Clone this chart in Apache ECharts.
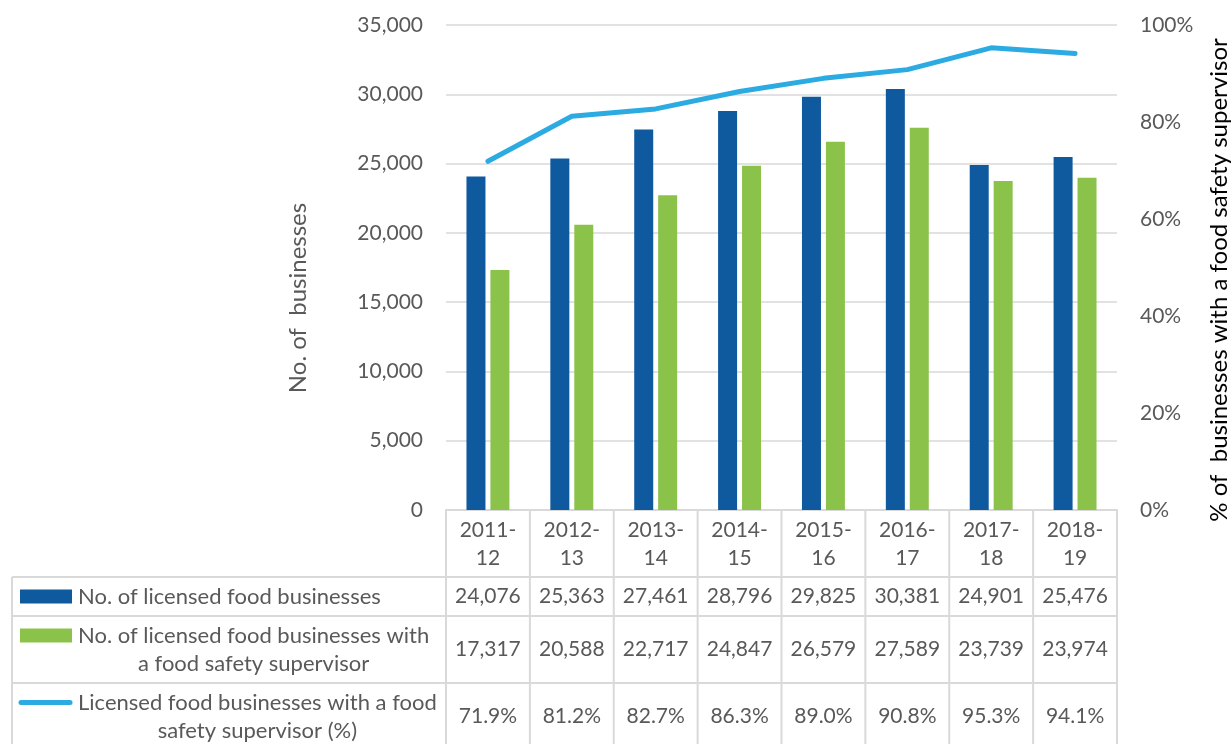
<!DOCTYPE html>
<html>
<head>
<meta charset="utf-8">
<script src="https://cdn.jsdelivr.net/npm/echarts@6/dist/echarts.min.js"></script>
<style>html,body{margin:0;padding:0;background:#fff}#c{width:1231px;height:744px}</style>
</head>
<body>
<div id="c"></div>
<script>
// ---- data ----
const categories = ['2011-12', '2012-13', '2013-14', '2014-15', '2015-16', '2016-17', '2017-18', '2018-19'];
const licensed = [24076, 25363, 27461, 28796, 29825, 30381, 24901, 25476];
const withSupervisor = [17317, 20588, 22717, 24847, 26579, 27589, 23739, 23974];
const pctSupervisor = [71.9, 81.2, 82.7, 86.3, 89.0, 90.8, 95.3, 94.1];
const leftAxisRange = [0, 35000, 5000];
const rightAxisRange = [0, 100, 20];
const seriesNames = [
  'No. of licensed food businesses',
  'No. of licensed food businesses with\na food safety supervisor',
  'Licensed food businesses with a food\nsafety supervisor (%)'
];
const leftTitle = 'No. of  businesses';
const rightTitle = '% of  businesses with a food safety supervisor';

// ---- style ----
const FONT = 'Lato, "Noto Sans", sans-serif';
const GRAY = '#595959';
const GRID = '#D9D9D9';
const COLORS = ['#0F5A9F', '#8BC34A', '#2BABE2'];
const fmtNum = v => v.toLocaleString('en-US');
const fmtPct = v => v.toFixed(1) + '%';

const chart = echarts.init(document.getElementById('c'), null, {renderer: 'canvas'});
chart.setOption({
  animation: false,
  textStyle: {fontFamily: FONT},
  grid: {left: 446, right: 114, top: 25, bottom: 234, containLabel: false},
  xAxis: {
    type: 'category', data: categories,
    axisLine: {show: true, lineStyle: {color: GRID, width: 2}},
    axisTick: {show: false},
    axisLabel: {
      formatter: v => v.replace('-', '-\n'),
      fontFamily: FONT, fontSize: 21, color: GRAY, lineHeight: 28, margin: 6
    }
  },
  yAxis: [{
    type: 'value', min: leftAxisRange[0], max: leftAxisRange[1], interval: leftAxisRange[2],
    axisLine: {show: false}, axisTick: {show: false},
    axisLabel: {formatter: fmtNum, fontFamily: FONT, fontSize: 21, color: GRAY, margin: 23},
    splitLine: {lineStyle: {color: GRID, width: 1.5}}
  }, {
    type: 'value', min: rightAxisRange[0], max: rightAxisRange[1], interval: rightAxisRange[2],
    axisLine: {show: false}, axisTick: {show: false},
    axisLabel: {formatter: '{value}%', fontFamily: FONT, fontSize: 21, color: GRAY, margin: 23},
    splitLine: {show: false}
  }],
  series: [{
    name: seriesNames[0], type: 'bar', data: licensed, yAxisIndex: 0,
    barWidth: 19, barGap: '26%', itemStyle: {color: COLORS[0]}
  }, {
    name: seriesNames[1], type: 'bar', data: withSupervisor, yAxisIndex: 0,
    barWidth: 19, barGap: '26%', itemStyle: {color: COLORS[1]}
  }, {
    name: seriesNames[2], type: 'line', data: pctSupervisor, yAxisIndex: 1,
    symbol: 'none', lineStyle: {color: COLORS[2], width: 5, cap: 'round', join: 'round'},
    itemStyle: {color: COLORS[2]}
  }]
});

// ---- data table (built from the axis scale) ----
const centers = categories.map(c => chart.convertToPixel({xAxisIndex: 0}, c));
const band = centers[1] - centers[0];
const edges = [centers[0] - band / 2].concat(centers.map(c => c + band / 2));
const y0 = chart.convertToPixel({yAxisIndex: 0}, 0);
const rowH = [67, 39, 67, 67];
const rowTop = [y0];
rowH.forEach((h, i) => rowTop.push(rowTop[i] + h));
const tableLeft = 12;
const tableRight = edges[edges.length - 1];
const labelX = 78;
const LABEL_FONT = '22px ' + FONT;

const ctx = document.createElement('canvas').getContext('2d');
ctx.font = LABEL_FONT;
const blockW = s => Math.max.apply(null, s.split('\n').map(l => ctx.measureText(l).width));

const g = [];
const line = (x1, y1, x2, y2) => g.push({type: 'line', silent: true,
  shape: {x1, y1, x2, y2}, style: {stroke: GRID, lineWidth: 2}});

edges.forEach(x => line(x, y0, x, 760));
line(tableLeft, rowTop[1], tableLeft, 760);
[1, 2, 3].forEach(r => line(tableLeft, rowTop[r], tableRight, rowTop[r]));

const txt = (x, y, s, font) => g.push({type: 'text', silent: true, x, y,
  style: {text: s, fill: GRAY, font: font || ('21px ' + FONT), align: 'center',
          verticalAlign: 'middle', lineHeight: 28}});

const rows = [licensed.map(fmtNum), withSupervisor.map(fmtNum), pctSupervisor.map(fmtPct)];
rows.forEach((vals, r) => {
  const cy = (rowTop[r + 1] + rowTop[r + 2]) / 2;
  vals.forEach((v, i) => txt(centers[i], cy, v));
  const name = seriesNames[r];
  txt(labelX + blockW(name) / 2, cy, name, LABEL_FONT);
  const firstLineY = name.indexOf('\n') >= 0 ? cy - 14 : cy;
  if (r < 2) {
    g.push({type: 'rect', silent: true, shape: {x: 20, y: firstLineY - 7, width: 52, height: 14},
      style: {fill: COLORS[r]}});
  } else {
    g.push({type: 'line', silent: true, shape: {x1: 21, y1: firstLineY, x2: 70, y2: firstLineY},
      style: {stroke: COLORS[2], lineWidth: 5, lineCap: 'round'}});
  }
});

// axis titles
g.push({type: 'text', silent: true, x: 298, y: 298, rotation: Math.PI / 2,
  style: {text: leftTitle, fill: GRAY, font: '24px ' + FONT, align: 'center', verticalAlign: 'middle'}});
g.push({type: 'text', silent: true, x: 1219, y: 280, rotation: Math.PI / 2,
  style: {text: rightTitle, fill: '#000', font: '24px ' + FONT, align: 'center', verticalAlign: 'middle'}});

chart.setOption({graphic: g});
</script>
</body>
</html>
